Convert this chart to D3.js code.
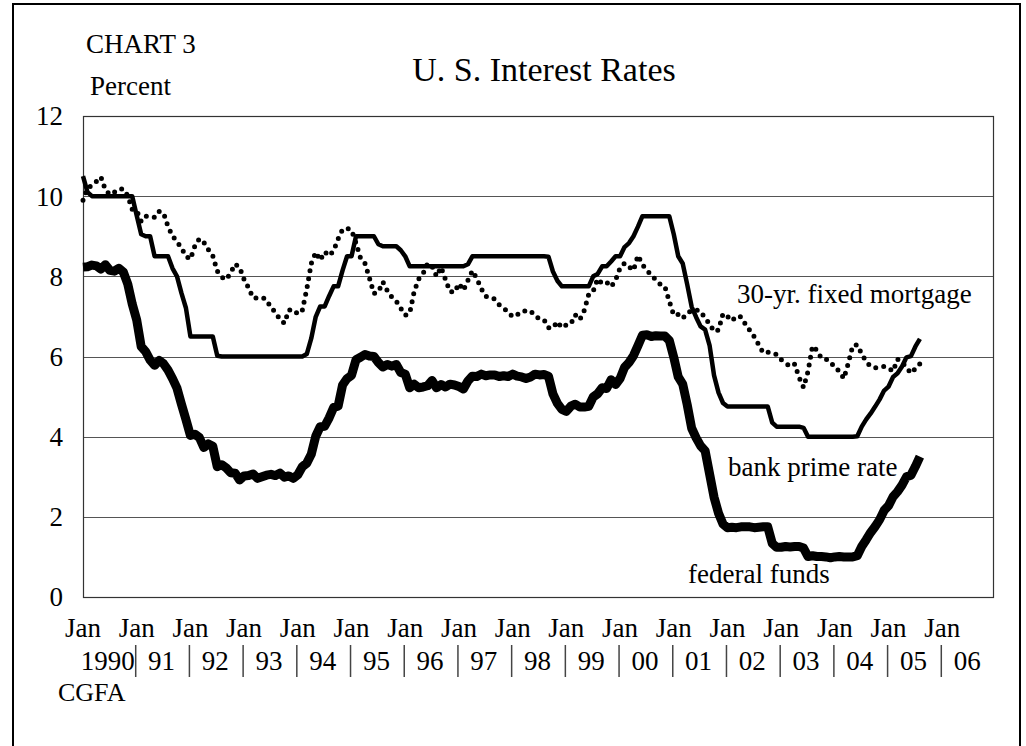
<!DOCTYPE html>
<html>
<head>
<meta charset="utf-8">
<script src="https://cdn.jsdelivr.net/npm/d3@7"></script>
<style>
    body { margin: 0; background: #fff; }
    svg { display: block; font-family: "Liberation Serif", "Times New Roman", serif; }
</style>
</head>
<body>
<svg width="1026" height="746"></svg>
<script>
// monthly values, Jan 1990 .. Aug 2005
const fedFunds = [
    8.23, 8.24, 8.28, 8.26, 8.18, 8.29, 8.15, 8.13, 8.20, 8.11, 7.81, 7.31,
    6.91, 6.25, 6.12, 5.91, 5.78, 5.90, 5.82, 5.66, 5.45, 5.21, 4.81, 4.43,
    4.03, 4.06, 3.98, 3.73, 3.82, 3.76, 3.25, 3.30, 3.22, 3.10, 3.09, 2.92,
    3.02, 3.03, 3.07, 2.96, 3.00, 3.04, 3.06, 3.03, 3.09, 2.99, 3.02, 2.96,
    3.05, 3.25, 3.34, 3.56, 4.01, 4.25, 4.26, 4.47, 4.73, 4.76, 5.29, 5.45,
    5.53, 5.92, 5.98, 6.05, 6.01, 6.00, 5.85, 5.74, 5.80, 5.76, 5.80, 5.60,
    5.56, 5.22, 5.31, 5.22, 5.24, 5.27, 5.40, 5.22, 5.30, 5.24, 5.31, 5.29,
    5.25, 5.19, 5.39, 5.51, 5.50, 5.56, 5.52, 5.54, 5.54, 5.50, 5.52, 5.50,
    5.56, 5.51, 5.49, 5.45, 5.49, 5.56, 5.54, 5.55, 5.51, 5.07, 4.83, 4.68,
    4.63, 4.76, 4.81, 4.74, 4.74, 4.76, 4.99, 5.07, 5.22, 5.20, 5.42, 5.30,
    5.45, 5.73, 5.85, 6.02, 6.27, 6.53, 6.54, 6.50, 6.52, 6.51, 6.51, 6.40,
    5.98, 5.49, 5.31, 4.80, 4.21, 3.97, 3.77, 3.65, 3.07, 2.49, 2.09, 1.82,
    1.73, 1.74, 1.73, 1.75, 1.75, 1.75, 1.73, 1.74, 1.75, 1.75, 1.34, 1.24,
    1.24, 1.26, 1.25, 1.26, 1.26, 1.22, 1.01, 1.03, 1.01, 1.01, 1.00, 0.98,
    1.00, 1.01, 1.00, 1.00, 1.00, 1.03, 1.26, 1.43, 1.61, 1.76, 1.93, 2.16,
    2.28, 2.50, 2.63, 2.79, 3.00, 3.04, 3.26, 3.50
];
const primeRate = [
    10.50, 10.10, 10.00, 10.00, 10.00, 10.00, 10.00, 10.00, 10.00, 10.00, 10.00, 10.00,
    9.52, 9.05, 9.00, 9.00, 8.50, 8.50, 8.50, 8.50, 8.20, 8.00, 7.58, 7.21,
    6.50, 6.50, 6.50, 6.50, 6.50, 6.50, 6.02, 6.00, 6.00, 6.00, 6.00, 6.00,
    6.00, 6.00, 6.00, 6.00, 6.00, 6.00, 6.00, 6.00, 6.00, 6.00, 6.00, 6.00,
    6.00, 6.00, 6.06, 6.45, 6.99, 7.25, 7.25, 7.51, 7.75, 7.75, 8.15, 8.50,
    8.50, 9.00, 9.00, 9.00, 9.00, 9.00, 8.80, 8.75, 8.75, 8.75, 8.75, 8.65,
    8.50, 8.25, 8.25, 8.25, 8.25, 8.25, 8.25, 8.25, 8.25, 8.25, 8.25, 8.25,
    8.25, 8.25, 8.30, 8.50, 8.50, 8.50, 8.50, 8.50, 8.50, 8.50, 8.50, 8.50,
    8.50, 8.50, 8.50, 8.50, 8.50, 8.50, 8.50, 8.50, 8.49, 8.12, 7.89, 7.75,
    7.75, 7.75, 7.75, 7.75, 7.75, 7.75, 8.00, 8.06, 8.25, 8.25, 8.37, 8.50,
    8.50, 8.73, 8.83, 9.00, 9.24, 9.50, 9.50, 9.50, 9.50, 9.50, 9.50, 9.50,
    9.05, 8.50, 8.32, 7.80, 7.24, 6.98, 6.75, 6.67, 6.28, 5.53, 5.10, 4.84,
    4.75, 4.75, 4.75, 4.75, 4.75, 4.75, 4.75, 4.75, 4.75, 4.75, 4.35, 4.25,
    4.25, 4.25, 4.25, 4.25, 4.25, 4.22, 4.00, 4.00, 4.00, 4.00, 4.00, 4.00,
    4.00, 4.00, 4.00, 4.00, 4.00, 4.01, 4.25, 4.43, 4.58, 4.75, 4.93, 5.15,
    5.25, 5.49, 5.58, 5.75, 5.98, 6.01, 6.25, 6.44
];
const mortgage30 = [
    9.90, 10.20, 10.27, 10.37, 10.48, 10.16, 10.04, 10.10, 10.18, 10.18, 10.01, 9.67,
    9.64, 9.37, 9.50, 9.49, 9.47, 9.62, 9.58, 9.24, 9.01, 8.86, 8.71, 8.50,
    8.43, 8.76, 8.94, 8.85, 8.67, 8.51, 8.13, 7.98, 7.92, 8.09, 8.31, 8.22,
    7.92, 7.71, 7.46, 7.46, 7.47, 7.42, 7.21, 7.11, 6.92, 6.83, 7.16, 7.17,
    7.06, 7.15, 7.68, 8.32, 8.60, 8.40, 8.61, 8.51, 8.64, 8.93, 9.17, 9.20,
    9.15, 8.83, 8.46, 8.32, 7.96, 7.57, 7.61, 7.86, 7.64, 7.48, 7.38, 7.20,
    7.03, 7.08, 7.62, 7.93, 8.07, 8.32, 8.25, 8.00, 8.23, 7.92, 7.62, 7.60,
    7.82, 7.65, 7.90, 8.14, 7.94, 7.69, 7.50, 7.48, 7.43, 7.29, 7.21, 7.10,
    6.99, 7.04, 7.13, 7.14, 7.14, 7.00, 6.95, 6.92, 6.72, 6.71, 6.87, 6.72,
    6.79, 6.81, 7.04, 6.92, 7.15, 7.55, 7.63, 7.94, 7.82, 7.85, 7.74, 7.91,
    8.21, 8.33, 8.24, 8.15, 8.52, 8.29, 8.15, 8.03, 7.91, 7.80, 7.75, 7.38,
    7.03, 7.05, 6.95, 7.08, 7.15, 7.16, 7.13, 6.95, 6.82, 6.62, 6.66, 7.07,
    7.00, 6.89, 7.01, 6.99, 6.81, 6.65, 6.49, 6.29, 6.09, 6.11, 6.07, 6.05,
    5.92, 5.84, 5.75, 5.81, 5.48, 5.23, 5.63, 6.26, 6.15, 5.95, 5.93, 5.88,
    5.71, 5.64, 5.45, 5.83, 6.27, 6.29, 6.06, 5.87, 5.75, 5.72, 5.73, 5.75,
    5.71, 5.63, 5.93, 5.86, 5.72, 5.58, 5.70, 5.82
];
const startYear = 1990;
const yTicks = [0, 2, 4, 6, 8, 10, 12];
const janYears = d3.range(1990, 2007);
const yearLabels = ["1990", "91", "92", "93", "94", "95", "96", "97", "98", "99",
    "00", "01", "02", "03", "04", "05", "06"];

const svg = d3.select("svg");
const plotLeft = 83, plotRight = 993, plotTop = 116, plotBottom = 597;

// the category axis runs a little past the right edge of the box
const x = d3.scaleLinear().domain([1990, 2007]).range([plotLeft, 996]);
const y = d3.scaleLinear().domain([0, 12]).range([plotBottom, plotTop]);

// outer frame
svg.append("rect")
    .attr("x", 13).attr("y", 4)
    .attr("width", 1007).attr("height", 780)
    .attr("fill", "none").attr("stroke", "#000").attr("stroke-width", 2);

// gridlines
svg.append("g")
    .selectAll("line")
    .data(yTicks.filter((d) => d > 0 && d < 12))
    .join("line")
    .attr("x1", plotLeft).attr("x2", plotRight)
    .attr("y1", (d) => Math.round(y(d)) + 0.5)
    .attr("y2", (d) => Math.round(y(d)) + 0.5)
    .attr("stroke", "#555").attr("stroke-width", 1);

// plot box
svg.append("rect")
    .attr("x", plotLeft + 0.5).attr("y", plotTop + 0.5)
    .attr("width", plotRight - plotLeft).attr("height", plotBottom - plotTop)
    .attr("fill", "none").attr("stroke", "#333").attr("stroke-width", 1.2);

// y labels
svg.append("g")
    .selectAll("text")
    .data(yTicks)
    .join("text")
    .attr("x", 63)
    .attr("y", (d) => y(d))
    .attr("dy", "0.35em")
    .attr("text-anchor", "end")
    .attr("font-size", 27)
    .text((d) => d);

// x labels: "Jan" row, year row, separators
const xg = svg.append("g").attr("font-size", 27);
xg.selectAll("text.jan")
    .data(janYears)
    .join("text")
    .attr("class", "jan")
    .attr("x", (d) => x(d))
    .attr("y", 637)
    .attr("text-anchor", "middle")
    .text("Jan");
xg.selectAll("text.yr")
    .data(janYears)
    .join("text")
    .attr("class", "yr")
    .attr("x", (d) => x(d + 0.5) - 2)
    .attr("y", 670)
    .attr("text-anchor", "middle")
    .text((d, i) => yearLabels[i]);
xg.selectAll("line")
    .data(janYears.slice(1))
    .join("line")
    .attr("x1", (d) => x(d) - 1).attr("x2", (d) => x(d) - 1)
    .attr("y1", 645).attr("y2", 677)
    .attr("stroke", "#444").attr("stroke-width", 1.5);

// series
const line = d3.line()
    .x((d, i) => x(startYear + i / 12))
    .y((d) => y(d));

svg.append("path")
    .datum(mortgage30)
    .attr("d", line)
    .attr("fill", "none")
    .attr("stroke", "#000")
    .attr("stroke-width", 5)
    .attr("stroke-linecap", "round")
    .attr("stroke-dasharray", "0 8");

svg.append("path")
    .datum(primeRate)
    .attr("d", line)
    .attr("fill", "none")
    .attr("stroke", "#000")
    .attr("stroke-width", 4.5)
    .attr("stroke-linejoin", "round");

svg.append("path")
    .datum(fedFunds)
    .attr("d", line)
    .attr("fill", "none")
    .attr("stroke", "#000")
    .attr("stroke-width", 9)
    .attr("stroke-linejoin", "round");

// texts
const labels = [
    { text: "CHART 3", x: 86, y: 53, size: 27, anchor: "start" },
    { text: "Percent", x: 90, y: 95, size: 27, anchor: "start" },
    { text: "U. S. Interest Rates", x: 544, y: 81, size: 34, anchor: "middle" },
    { text: "30-yr. fixed mortgage", x: 737, y: 303, size: 27, anchor: "start" },
    { text: "bank prime rate", x: 728, y: 476, size: 27, anchor: "start" },
    { text: "federal funds", x: 688, y: 583, size: 27, anchor: "start" },
    { text: "CGFA", x: 58, y: 701, size: 26, anchor: "start" }
];
svg.append("g")
    .selectAll("text")
    .data(labels)
    .join("text")
    .attr("x", (d) => d.x)
    .attr("y", (d) => d.y)
    .attr("font-size", (d) => d.size)
    .attr("text-anchor", (d) => d.anchor)
    .text((d) => d.text);
</script>
</body>
</html>
